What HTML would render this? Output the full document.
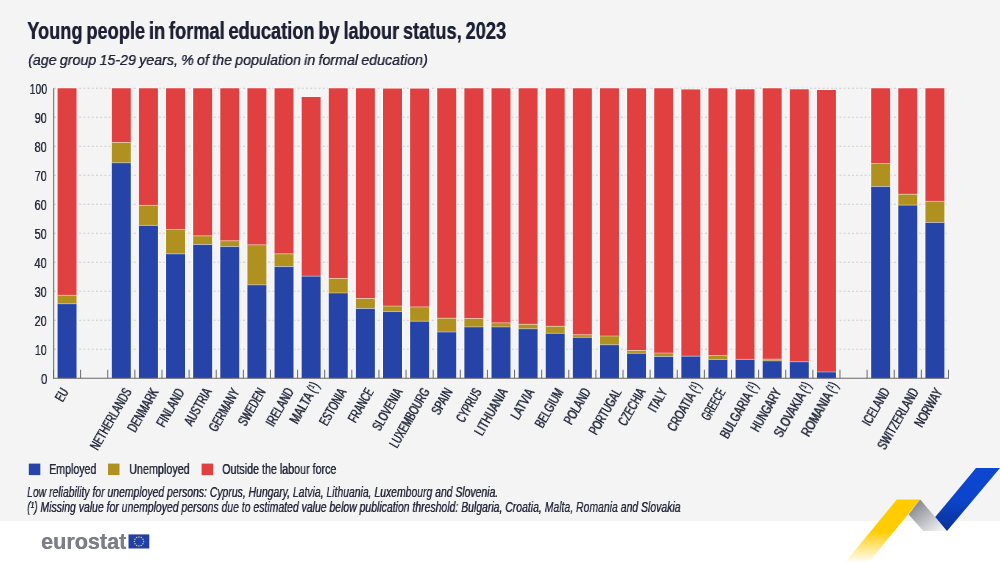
<!DOCTYPE html>
<html lang="en"><head><meta charset="utf-8"><title>Young people in formal education by labour status, 2023</title>
<style>
html,body{margin:0;padding:0;background:#fff;}
body{width:1000px;height:562px;overflow:hidden;position:relative;font-family:"Liberation Sans",sans-serif;}
svg{display:block;position:absolute;left:0;top:0;}
.a{position:absolute;width:0;height:0;will-change:transform;}
.t{position:absolute;display:block;white-space:nowrap;line-height:0;font-family:"Liberation Sans",sans-serif;}
</style></head><body>
<svg width="1000" height="562" viewBox="0 0 1000 562">
<defs>
<linearGradient id="gy" gradientUnits="userSpaceOnUse" x1="0" y1="499.5" x2="0" y2="562"><stop offset="0" stop-color="#ffcc00"/><stop offset="0.5" stop-color="#ffcc00"/><stop offset="1" stop-color="#ffcc00" stop-opacity="0.04"/></linearGradient>
<linearGradient id="gg" gradientUnits="userSpaceOnUse" x1="915" y1="503" x2="938" y2="533"><stop offset="0" stop-color="#85878f"/><stop offset="1" stop-color="#f2f2f3"/></linearGradient>
<linearGradient id="gb" gradientUnits="userSpaceOnUse" x1="0" y1="468" x2="0" y2="531"><stop offset="0" stop-color="#0c47d0"/><stop offset="0.5" stop-color="#0c45cc"/><stop offset="1" stop-color="#0a2f94"/></linearGradient>
</defs>
<rect x="0" y="0" width="1000" height="562" fill="#ffffff"/>
<rect x="0" y="0" width="1000" height="521" fill="#f4f4f4"/>
<line x1="54.00" y1="349.25" x2="948.46" y2="349.25" stroke="#cdcdcd" stroke-width="1" stroke-dasharray="2 2.2"/>
<line x1="54.00" y1="320.25" x2="948.46" y2="320.25" stroke="#cdcdcd" stroke-width="1" stroke-dasharray="2 2.2"/>
<line x1="54.00" y1="291.25" x2="948.46" y2="291.25" stroke="#cdcdcd" stroke-width="1" stroke-dasharray="2 2.2"/>
<line x1="54.00" y1="262.25" x2="948.46" y2="262.25" stroke="#cdcdcd" stroke-width="1" stroke-dasharray="2 2.2"/>
<line x1="54.00" y1="233.25" x2="948.46" y2="233.25" stroke="#cdcdcd" stroke-width="1" stroke-dasharray="2 2.2"/>
<line x1="54.00" y1="204.25" x2="948.46" y2="204.25" stroke="#cdcdcd" stroke-width="1" stroke-dasharray="2 2.2"/>
<line x1="54.00" y1="175.25" x2="948.46" y2="175.25" stroke="#cdcdcd" stroke-width="1" stroke-dasharray="2 2.2"/>
<line x1="54.00" y1="146.25" x2="948.46" y2="146.25" stroke="#cdcdcd" stroke-width="1" stroke-dasharray="2 2.2"/>
<line x1="54.00" y1="117.25" x2="948.46" y2="117.25" stroke="#cdcdcd" stroke-width="1" stroke-dasharray="2 2.2"/>
<line x1="54.00" y1="88.25" x2="948.46" y2="88.25" stroke="#cdcdcd" stroke-width="1" stroke-dasharray="2 2.2"/>
<rect x="56.71" y="87.40" width="20.70" height="290.85" fill="#ffffff" fill-opacity="0.9"/>
<rect x="57.56" y="88.25" width="19.0" height="207.06" fill="#e04040"/>
<rect x="57.56" y="295.31" width="19.0" height="8.41" fill="#b09120"/>
<rect x="57.56" y="303.72" width="19.0" height="74.53" fill="#2644a7"/>
<line x1="57.56" y1="303.72" x2="76.56" y2="303.72" stroke="#ffffff" stroke-opacity="0.6" stroke-width="0.7"/>
<line x1="57.56" y1="295.31" x2="76.56" y2="295.31" stroke="#ffffff" stroke-opacity="0.6" stroke-width="0.7"/>
<rect x="110.95" y="87.40" width="20.70" height="290.85" fill="#ffffff" fill-opacity="0.9"/>
<rect x="111.80" y="88.25" width="19.0" height="54.23" fill="#e04040"/>
<rect x="111.80" y="142.48" width="19.0" height="20.30" fill="#b09120"/>
<rect x="111.80" y="162.78" width="19.0" height="215.47" fill="#2644a7"/>
<line x1="111.80" y1="162.78" x2="130.80" y2="162.78" stroke="#ffffff" stroke-opacity="0.6" stroke-width="0.7"/>
<line x1="111.80" y1="142.48" x2="130.80" y2="142.48" stroke="#ffffff" stroke-opacity="0.6" stroke-width="0.7"/>
<rect x="138.07" y="87.40" width="20.70" height="290.85" fill="#ffffff" fill-opacity="0.9"/>
<rect x="138.92" y="88.25" width="19.0" height="117.16" fill="#e04040"/>
<rect x="138.92" y="205.41" width="19.0" height="20.01" fill="#b09120"/>
<rect x="138.92" y="225.42" width="19.0" height="152.83" fill="#2644a7"/>
<line x1="138.92" y1="225.42" x2="157.92" y2="225.42" stroke="#ffffff" stroke-opacity="0.6" stroke-width="0.7"/>
<line x1="138.92" y1="205.41" x2="157.92" y2="205.41" stroke="#ffffff" stroke-opacity="0.6" stroke-width="0.7"/>
<rect x="165.19" y="87.40" width="20.70" height="290.85" fill="#ffffff" fill-opacity="0.9"/>
<rect x="166.04" y="88.25" width="19.0" height="141.23" fill="#e04040"/>
<rect x="166.04" y="229.48" width="19.0" height="24.36" fill="#b09120"/>
<rect x="166.04" y="253.84" width="19.0" height="124.41" fill="#2644a7"/>
<line x1="166.04" y1="253.84" x2="185.04" y2="253.84" stroke="#ffffff" stroke-opacity="0.6" stroke-width="0.7"/>
<line x1="166.04" y1="229.48" x2="185.04" y2="229.48" stroke="#ffffff" stroke-opacity="0.6" stroke-width="0.7"/>
<rect x="192.31" y="87.40" width="20.70" height="290.85" fill="#ffffff" fill-opacity="0.9"/>
<rect x="193.16" y="88.25" width="19.0" height="147.61" fill="#e04040"/>
<rect x="193.16" y="235.86" width="19.0" height="8.70" fill="#b09120"/>
<rect x="193.16" y="244.56" width="19.0" height="133.69" fill="#2644a7"/>
<line x1="193.16" y1="244.56" x2="212.16" y2="244.56" stroke="#ffffff" stroke-opacity="0.6" stroke-width="0.7"/>
<line x1="193.16" y1="235.86" x2="212.16" y2="235.86" stroke="#ffffff" stroke-opacity="0.6" stroke-width="0.7"/>
<rect x="219.43" y="87.40" width="20.70" height="290.85" fill="#ffffff" fill-opacity="0.9"/>
<rect x="220.28" y="88.25" width="19.0" height="152.54" fill="#e04040"/>
<rect x="220.28" y="240.79" width="19.0" height="5.80" fill="#b09120"/>
<rect x="220.28" y="246.59" width="19.0" height="131.66" fill="#2644a7"/>
<line x1="220.28" y1="246.59" x2="239.28" y2="246.59" stroke="#ffffff" stroke-opacity="0.6" stroke-width="0.7"/>
<line x1="220.28" y1="240.79" x2="239.28" y2="240.79" stroke="#ffffff" stroke-opacity="0.6" stroke-width="0.7"/>
<rect x="246.55" y="87.40" width="20.70" height="290.85" fill="#ffffff" fill-opacity="0.9"/>
<rect x="247.40" y="88.25" width="19.0" height="156.60" fill="#e04040"/>
<rect x="247.40" y="244.85" width="19.0" height="40.02" fill="#b09120"/>
<rect x="247.40" y="284.87" width="19.0" height="93.38" fill="#2644a7"/>
<line x1="247.40" y1="284.87" x2="266.40" y2="284.87" stroke="#ffffff" stroke-opacity="0.6" stroke-width="0.7"/>
<line x1="247.40" y1="244.85" x2="266.40" y2="244.85" stroke="#ffffff" stroke-opacity="0.6" stroke-width="0.7"/>
<rect x="273.67" y="87.40" width="20.70" height="290.85" fill="#ffffff" fill-opacity="0.9"/>
<rect x="274.52" y="88.25" width="19.0" height="165.59" fill="#e04040"/>
<rect x="274.52" y="253.84" width="19.0" height="12.76" fill="#b09120"/>
<rect x="274.52" y="266.60" width="19.0" height="111.65" fill="#2644a7"/>
<line x1="274.52" y1="266.60" x2="293.52" y2="266.60" stroke="#ffffff" stroke-opacity="0.6" stroke-width="0.7"/>
<line x1="274.52" y1="253.84" x2="293.52" y2="253.84" stroke="#ffffff" stroke-opacity="0.6" stroke-width="0.7"/>
<rect x="300.79" y="96.10" width="20.70" height="282.15" fill="#ffffff" fill-opacity="0.9"/>
<rect x="301.64" y="96.95" width="19.0" height="179.22" fill="#e04040"/>
<rect x="301.64" y="276.17" width="19.0" height="102.08" fill="#2644a7"/>
<line x1="301.64" y1="276.17" x2="320.64" y2="276.17" stroke="#ffffff" stroke-opacity="0.6" stroke-width="0.7"/>
<rect x="327.91" y="87.40" width="20.70" height="290.85" fill="#ffffff" fill-opacity="0.9"/>
<rect x="328.76" y="88.25" width="19.0" height="190.24" fill="#e04040"/>
<rect x="328.76" y="278.49" width="19.0" height="14.50" fill="#b09120"/>
<rect x="328.76" y="292.99" width="19.0" height="85.26" fill="#2644a7"/>
<line x1="328.76" y1="292.99" x2="347.76" y2="292.99" stroke="#ffffff" stroke-opacity="0.6" stroke-width="0.7"/>
<line x1="328.76" y1="278.49" x2="347.76" y2="278.49" stroke="#ffffff" stroke-opacity="0.6" stroke-width="0.7"/>
<rect x="355.03" y="87.40" width="20.70" height="290.85" fill="#ffffff" fill-opacity="0.9"/>
<rect x="355.88" y="88.25" width="19.0" height="210.25" fill="#e04040"/>
<rect x="355.88" y="298.50" width="19.0" height="10.00" fill="#b09120"/>
<rect x="355.88" y="308.50" width="19.0" height="69.75" fill="#2644a7"/>
<line x1="355.88" y1="308.50" x2="374.88" y2="308.50" stroke="#ffffff" stroke-opacity="0.6" stroke-width="0.7"/>
<line x1="355.88" y1="298.50" x2="374.88" y2="298.50" stroke="#ffffff" stroke-opacity="0.6" stroke-width="0.7"/>
<rect x="382.15" y="87.69" width="20.70" height="290.56" fill="#ffffff" fill-opacity="0.9"/>
<rect x="383.00" y="88.54" width="19.0" height="217.50" fill="#e04040"/>
<rect x="383.00" y="306.04" width="19.0" height="5.51" fill="#b09120"/>
<rect x="383.00" y="311.55" width="19.0" height="66.70" fill="#2644a7"/>
<line x1="383.00" y1="311.55" x2="402.00" y2="311.55" stroke="#ffffff" stroke-opacity="0.6" stroke-width="0.7"/>
<line x1="383.00" y1="306.04" x2="402.00" y2="306.04" stroke="#ffffff" stroke-opacity="0.6" stroke-width="0.7"/>
<rect x="409.27" y="87.69" width="20.70" height="290.56" fill="#ffffff" fill-opacity="0.9"/>
<rect x="410.12" y="88.54" width="19.0" height="218.37" fill="#e04040"/>
<rect x="410.12" y="306.91" width="19.0" height="14.36" fill="#b09120"/>
<rect x="410.12" y="321.26" width="19.0" height="56.98" fill="#2644a7"/>
<line x1="410.12" y1="321.26" x2="429.12" y2="321.26" stroke="#ffffff" stroke-opacity="0.6" stroke-width="0.7"/>
<line x1="410.12" y1="306.91" x2="429.12" y2="306.91" stroke="#ffffff" stroke-opacity="0.6" stroke-width="0.7"/>
<rect x="436.39" y="87.40" width="20.70" height="290.85" fill="#ffffff" fill-opacity="0.9"/>
<rect x="437.24" y="88.25" width="19.0" height="229.97" fill="#e04040"/>
<rect x="437.24" y="318.22" width="19.0" height="13.78" fill="#b09120"/>
<rect x="437.24" y="332.00" width="19.0" height="46.25" fill="#2644a7"/>
<line x1="437.24" y1="332.00" x2="456.24" y2="332.00" stroke="#ffffff" stroke-opacity="0.6" stroke-width="0.7"/>
<line x1="437.24" y1="318.22" x2="456.24" y2="318.22" stroke="#ffffff" stroke-opacity="0.6" stroke-width="0.7"/>
<rect x="463.51" y="87.40" width="20.70" height="290.85" fill="#ffffff" fill-opacity="0.9"/>
<rect x="464.36" y="88.25" width="19.0" height="230.26" fill="#e04040"/>
<rect x="464.36" y="318.51" width="19.0" height="8.41" fill="#b09120"/>
<rect x="464.36" y="326.92" width="19.0" height="51.33" fill="#2644a7"/>
<line x1="464.36" y1="326.92" x2="483.36" y2="326.92" stroke="#ffffff" stroke-opacity="0.6" stroke-width="0.7"/>
<line x1="464.36" y1="318.51" x2="483.36" y2="318.51" stroke="#ffffff" stroke-opacity="0.6" stroke-width="0.7"/>
<rect x="490.63" y="87.40" width="20.70" height="290.85" fill="#ffffff" fill-opacity="0.9"/>
<rect x="491.48" y="88.25" width="19.0" height="234.61" fill="#e04040"/>
<rect x="491.48" y="322.86" width="19.0" height="4.06" fill="#b09120"/>
<rect x="491.48" y="326.92" width="19.0" height="51.33" fill="#2644a7"/>
<line x1="491.48" y1="326.92" x2="510.48" y2="326.92" stroke="#ffffff" stroke-opacity="0.6" stroke-width="0.7"/>
<line x1="491.48" y1="322.86" x2="510.48" y2="322.86" stroke="#ffffff" stroke-opacity="0.6" stroke-width="0.7"/>
<rect x="517.75" y="87.40" width="20.70" height="290.85" fill="#ffffff" fill-opacity="0.9"/>
<rect x="518.60" y="88.25" width="19.0" height="236.06" fill="#e04040"/>
<rect x="518.60" y="324.31" width="19.0" height="4.44" fill="#b09120"/>
<rect x="518.60" y="328.75" width="19.0" height="49.50" fill="#2644a7"/>
<line x1="518.60" y1="328.75" x2="537.60" y2="328.75" stroke="#ffffff" stroke-opacity="0.6" stroke-width="0.7"/>
<line x1="518.60" y1="324.31" x2="537.60" y2="324.31" stroke="#ffffff" stroke-opacity="0.6" stroke-width="0.7"/>
<rect x="544.87" y="87.40" width="20.70" height="290.85" fill="#ffffff" fill-opacity="0.9"/>
<rect x="545.72" y="88.25" width="19.0" height="238.09" fill="#e04040"/>
<rect x="545.72" y="326.34" width="19.0" height="6.96" fill="#b09120"/>
<rect x="545.72" y="333.30" width="19.0" height="44.95" fill="#2644a7"/>
<line x1="545.72" y1="333.30" x2="564.72" y2="333.30" stroke="#ffffff" stroke-opacity="0.6" stroke-width="0.7"/>
<line x1="545.72" y1="326.34" x2="564.72" y2="326.34" stroke="#ffffff" stroke-opacity="0.6" stroke-width="0.7"/>
<rect x="571.99" y="87.40" width="20.70" height="290.85" fill="#ffffff" fill-opacity="0.9"/>
<rect x="572.84" y="88.25" width="19.0" height="246.50" fill="#e04040"/>
<rect x="572.84" y="334.75" width="19.0" height="2.61" fill="#b09120"/>
<rect x="572.84" y="337.36" width="19.0" height="40.89" fill="#2644a7"/>
<line x1="572.84" y1="337.36" x2="591.84" y2="337.36" stroke="#ffffff" stroke-opacity="0.6" stroke-width="0.7"/>
<line x1="572.84" y1="334.75" x2="591.84" y2="334.75" stroke="#ffffff" stroke-opacity="0.6" stroke-width="0.7"/>
<rect x="599.11" y="87.40" width="20.70" height="290.85" fill="#ffffff" fill-opacity="0.9"/>
<rect x="599.96" y="88.25" width="19.0" height="247.75" fill="#e04040"/>
<rect x="599.96" y="336.00" width="19.0" height="8.76" fill="#b09120"/>
<rect x="599.96" y="344.75" width="19.0" height="33.50" fill="#2644a7"/>
<line x1="599.96" y1="344.75" x2="618.96" y2="344.75" stroke="#ffffff" stroke-opacity="0.6" stroke-width="0.7"/>
<line x1="599.96" y1="336.00" x2="618.96" y2="336.00" stroke="#ffffff" stroke-opacity="0.6" stroke-width="0.7"/>
<rect x="626.23" y="87.40" width="20.70" height="290.85" fill="#ffffff" fill-opacity="0.9"/>
<rect x="627.08" y="88.25" width="19.0" height="262.25" fill="#e04040"/>
<rect x="627.08" y="350.50" width="19.0" height="2.81" fill="#b09120"/>
<rect x="627.08" y="353.31" width="19.0" height="24.94" fill="#2644a7"/>
<line x1="627.08" y1="353.31" x2="646.08" y2="353.31" stroke="#ffffff" stroke-opacity="0.6" stroke-width="0.7"/>
<line x1="627.08" y1="350.50" x2="646.08" y2="350.50" stroke="#ffffff" stroke-opacity="0.6" stroke-width="0.7"/>
<rect x="653.35" y="87.40" width="20.70" height="290.85" fill="#ffffff" fill-opacity="0.9"/>
<rect x="654.20" y="88.25" width="19.0" height="264.77" fill="#e04040"/>
<rect x="654.20" y="353.02" width="19.0" height="3.48" fill="#b09120"/>
<rect x="654.20" y="356.50" width="19.0" height="21.75" fill="#2644a7"/>
<line x1="654.20" y1="356.50" x2="673.20" y2="356.50" stroke="#ffffff" stroke-opacity="0.6" stroke-width="0.7"/>
<line x1="654.20" y1="353.02" x2="673.20" y2="353.02" stroke="#ffffff" stroke-opacity="0.6" stroke-width="0.7"/>
<rect x="680.47" y="88.56" width="20.70" height="289.69" fill="#ffffff" fill-opacity="0.9"/>
<rect x="681.32" y="89.41" width="19.0" height="266.80" fill="#e04040"/>
<rect x="681.32" y="356.21" width="19.0" height="22.04" fill="#2644a7"/>
<line x1="681.32" y1="356.21" x2="700.32" y2="356.21" stroke="#ffffff" stroke-opacity="0.6" stroke-width="0.7"/>
<rect x="707.59" y="87.40" width="20.70" height="290.85" fill="#ffffff" fill-opacity="0.9"/>
<rect x="708.44" y="88.25" width="19.0" height="267.24" fill="#e04040"/>
<rect x="708.44" y="355.49" width="19.0" height="4.00" fill="#b09120"/>
<rect x="708.44" y="359.49" width="19.0" height="18.76" fill="#2644a7"/>
<line x1="708.44" y1="359.49" x2="727.44" y2="359.49" stroke="#ffffff" stroke-opacity="0.6" stroke-width="0.7"/>
<line x1="708.44" y1="355.49" x2="727.44" y2="355.49" stroke="#ffffff" stroke-opacity="0.6" stroke-width="0.7"/>
<rect x="734.71" y="88.41" width="20.70" height="289.84" fill="#ffffff" fill-opacity="0.9"/>
<rect x="735.56" y="89.26" width="19.0" height="270.13" fill="#e04040"/>
<rect x="735.56" y="359.40" width="19.0" height="18.85" fill="#2644a7"/>
<line x1="735.56" y1="359.40" x2="754.56" y2="359.40" stroke="#ffffff" stroke-opacity="0.6" stroke-width="0.7"/>
<rect x="761.83" y="87.40" width="20.70" height="290.85" fill="#ffffff" fill-opacity="0.9"/>
<rect x="762.68" y="88.25" width="19.0" height="270.86" fill="#e04040"/>
<rect x="762.68" y="359.11" width="19.0" height="1.74" fill="#b09120"/>
<rect x="762.68" y="360.85" width="19.0" height="17.40" fill="#2644a7"/>
<line x1="762.68" y1="360.85" x2="781.68" y2="360.85" stroke="#ffffff" stroke-opacity="0.6" stroke-width="0.7"/>
<line x1="762.68" y1="359.11" x2="781.68" y2="359.11" stroke="#ffffff" stroke-opacity="0.6" stroke-width="0.7"/>
<rect x="788.95" y="88.41" width="20.70" height="289.84" fill="#ffffff" fill-opacity="0.9"/>
<rect x="789.80" y="89.26" width="19.0" height="272.45" fill="#e04040"/>
<rect x="789.80" y="361.72" width="19.0" height="16.53" fill="#2644a7"/>
<line x1="789.80" y1="361.72" x2="808.80" y2="361.72" stroke="#ffffff" stroke-opacity="0.6" stroke-width="0.7"/>
<rect x="816.07" y="89.14" width="20.70" height="289.11" fill="#ffffff" fill-opacity="0.9"/>
<rect x="816.92" y="89.99" width="19.0" height="282.02" fill="#e04040"/>
<rect x="816.92" y="372.01" width="19.0" height="6.23" fill="#2644a7"/>
<line x1="816.92" y1="372.01" x2="835.92" y2="372.01" stroke="#ffffff" stroke-opacity="0.6" stroke-width="0.7"/>
<rect x="870.31" y="87.40" width="20.70" height="290.85" fill="#ffffff" fill-opacity="0.9"/>
<rect x="871.16" y="88.25" width="19.0" height="75.26" fill="#e04040"/>
<rect x="871.16" y="163.51" width="19.0" height="23.06" fill="#b09120"/>
<rect x="871.16" y="186.56" width="19.0" height="191.69" fill="#2644a7"/>
<line x1="871.16" y1="186.56" x2="890.16" y2="186.56" stroke="#ffffff" stroke-opacity="0.6" stroke-width="0.7"/>
<line x1="871.16" y1="163.51" x2="890.16" y2="163.51" stroke="#ffffff" stroke-opacity="0.6" stroke-width="0.7"/>
<rect x="897.43" y="87.40" width="20.70" height="290.85" fill="#ffffff" fill-opacity="0.9"/>
<rect x="898.28" y="88.25" width="19.0" height="105.99" fill="#e04040"/>
<rect x="898.28" y="194.25" width="19.0" height="10.88" fill="#b09120"/>
<rect x="898.28" y="205.12" width="19.0" height="173.13" fill="#2644a7"/>
<line x1="898.28" y1="205.12" x2="917.28" y2="205.12" stroke="#ffffff" stroke-opacity="0.6" stroke-width="0.7"/>
<line x1="898.28" y1="194.25" x2="917.28" y2="194.25" stroke="#ffffff" stroke-opacity="0.6" stroke-width="0.7"/>
<rect x="924.55" y="87.40" width="20.70" height="290.85" fill="#ffffff" fill-opacity="0.9"/>
<rect x="925.40" y="88.25" width="19.0" height="113.10" fill="#e04040"/>
<rect x="925.40" y="201.35" width="19.0" height="21.17" fill="#b09120"/>
<rect x="925.40" y="222.52" width="19.0" height="155.73" fill="#2644a7"/>
<line x1="925.40" y1="222.52" x2="944.40" y2="222.52" stroke="#ffffff" stroke-opacity="0.6" stroke-width="0.7"/>
<line x1="925.40" y1="201.35" x2="944.40" y2="201.35" stroke="#ffffff" stroke-opacity="0.6" stroke-width="0.7"/>
<line x1="53.70" y1="88.25" x2="53.70" y2="378.75" stroke="#6a6a6a" stroke-width="1"/>
<line x1="53.20" y1="378.25" x2="948.96" y2="378.25" stroke="#6a6a6a" stroke-width="1.2"/>
<line x1="53.50" y1="369.75" x2="53.50" y2="378.25" stroke="#6a6a6a" stroke-width="1"/>
<line x1="80.62" y1="369.75" x2="80.62" y2="378.25" stroke="#6a6a6a" stroke-width="1"/>
<line x1="107.74" y1="369.75" x2="107.74" y2="378.25" stroke="#6a6a6a" stroke-width="1"/>
<line x1="134.86" y1="369.75" x2="134.86" y2="378.25" stroke="#6a6a6a" stroke-width="1"/>
<line x1="161.98" y1="369.75" x2="161.98" y2="378.25" stroke="#6a6a6a" stroke-width="1"/>
<line x1="189.10" y1="369.75" x2="189.10" y2="378.25" stroke="#6a6a6a" stroke-width="1"/>
<line x1="216.22" y1="369.75" x2="216.22" y2="378.25" stroke="#6a6a6a" stroke-width="1"/>
<line x1="243.34" y1="369.75" x2="243.34" y2="378.25" stroke="#6a6a6a" stroke-width="1"/>
<line x1="270.46" y1="369.75" x2="270.46" y2="378.25" stroke="#6a6a6a" stroke-width="1"/>
<line x1="297.58" y1="369.75" x2="297.58" y2="378.25" stroke="#6a6a6a" stroke-width="1"/>
<line x1="324.70" y1="369.75" x2="324.70" y2="378.25" stroke="#6a6a6a" stroke-width="1"/>
<line x1="351.82" y1="369.75" x2="351.82" y2="378.25" stroke="#6a6a6a" stroke-width="1"/>
<line x1="378.94" y1="369.75" x2="378.94" y2="378.25" stroke="#6a6a6a" stroke-width="1"/>
<line x1="406.06" y1="369.75" x2="406.06" y2="378.25" stroke="#6a6a6a" stroke-width="1"/>
<line x1="433.18" y1="369.75" x2="433.18" y2="378.25" stroke="#6a6a6a" stroke-width="1"/>
<line x1="460.30" y1="369.75" x2="460.30" y2="378.25" stroke="#6a6a6a" stroke-width="1"/>
<line x1="487.42" y1="369.75" x2="487.42" y2="378.25" stroke="#6a6a6a" stroke-width="1"/>
<line x1="514.54" y1="369.75" x2="514.54" y2="378.25" stroke="#6a6a6a" stroke-width="1"/>
<line x1="541.66" y1="369.75" x2="541.66" y2="378.25" stroke="#6a6a6a" stroke-width="1"/>
<line x1="568.78" y1="369.75" x2="568.78" y2="378.25" stroke="#6a6a6a" stroke-width="1"/>
<line x1="595.90" y1="369.75" x2="595.90" y2="378.25" stroke="#6a6a6a" stroke-width="1"/>
<line x1="623.02" y1="369.75" x2="623.02" y2="378.25" stroke="#6a6a6a" stroke-width="1"/>
<line x1="650.14" y1="369.75" x2="650.14" y2="378.25" stroke="#6a6a6a" stroke-width="1"/>
<line x1="677.26" y1="369.75" x2="677.26" y2="378.25" stroke="#6a6a6a" stroke-width="1"/>
<line x1="704.38" y1="369.75" x2="704.38" y2="378.25" stroke="#6a6a6a" stroke-width="1"/>
<line x1="731.50" y1="369.75" x2="731.50" y2="378.25" stroke="#6a6a6a" stroke-width="1"/>
<line x1="758.62" y1="369.75" x2="758.62" y2="378.25" stroke="#6a6a6a" stroke-width="1"/>
<line x1="785.74" y1="369.75" x2="785.74" y2="378.25" stroke="#6a6a6a" stroke-width="1"/>
<line x1="812.86" y1="369.75" x2="812.86" y2="378.25" stroke="#6a6a6a" stroke-width="1"/>
<line x1="839.98" y1="369.75" x2="839.98" y2="378.25" stroke="#6a6a6a" stroke-width="1"/>
<line x1="867.10" y1="369.75" x2="867.10" y2="378.25" stroke="#6a6a6a" stroke-width="1"/>
<line x1="894.22" y1="369.75" x2="894.22" y2="378.25" stroke="#6a6a6a" stroke-width="1"/>
<line x1="921.34" y1="369.75" x2="921.34" y2="378.25" stroke="#6a6a6a" stroke-width="1"/>
<line x1="948.46" y1="369.75" x2="948.46" y2="378.25" stroke="#6a6a6a" stroke-width="1"/>
<rect x="28.8" y="463.6" width="11.5" height="11.5" fill="#2644a7"/>
<rect x="108.0" y="463.6" width="11.5" height="11.5" fill="#b09120"/>
<rect x="201.6" y="463.6" width="11.5" height="11.5" fill="#e04040"/>
<rect x="128.5" y="534.4" width="20.8" height="14.1" fill="#2140a5"/>
<circle cx="138.95" cy="536.90" r="0.75" fill="#f2cc2a"/>
<circle cx="141.25" cy="537.52" r="0.75" fill="#f2cc2a"/>
<circle cx="142.93" cy="539.20" r="0.75" fill="#f2cc2a"/>
<circle cx="143.55" cy="541.50" r="0.75" fill="#f2cc2a"/>
<circle cx="142.93" cy="543.80" r="0.75" fill="#f2cc2a"/>
<circle cx="141.25" cy="545.48" r="0.75" fill="#f2cc2a"/>
<circle cx="138.95" cy="546.10" r="0.75" fill="#f2cc2a"/>
<circle cx="136.65" cy="545.48" r="0.75" fill="#f2cc2a"/>
<circle cx="134.97" cy="543.80" r="0.75" fill="#f2cc2a"/>
<circle cx="134.35" cy="541.50" r="0.75" fill="#f2cc2a"/>
<circle cx="134.97" cy="539.20" r="0.75" fill="#f2cc2a"/>
<circle cx="136.65" cy="537.52" r="0.75" fill="#f2cc2a"/>
<polygon points="896.8,499.5 920.2,499.5 869,562 845.4,562" fill="url(#gy)"/>
<polygon points="920.2,499.5 947,531.1 923.4,531.1 908.6,514.4" fill="url(#gg)"/>
<polygon points="976,468 1000,468 947,531.1 935.2,517.1" fill="url(#gb)"/>
</svg>
<div class="a" style="left:27.20px;top:39.10px;"><span class="t" style="left:0;transform-origin:0 50%;top:-8.04px;font-size:23.2px;font-weight:700;color:#1d2136;word-spacing:-1.6px;text-shadow:0.45px 0 0 #1d2136;transform:scaleX(0.7863)">Young people in formal education by labour status, 2023</span></div>
<div class="a" style="left:27.50px;top:64.90px;"><span class="t" style="left:0;transform-origin:0 50%;top:-5.37px;font-size:15.5px;font-style:italic;color:#22263a;word-spacing:-0.8px;text-shadow:0.20px 0 0 #22263a;transform:scaleX(0.9191)">(age group 15-29 years, % of the population in formal education)</span></div>
<div class="a" style="left:46.80px;top:383.55px;"><span class="t" style="right:0;transform-origin:100% 50%;top:-5.20px;font-size:15px;color:#262b3d;text-shadow:0.25px 0 0 #262b3d;transform:scaleX(0.7792)">0</span></div>
<div class="a" style="left:46.80px;top:354.55px;"><span class="t" style="right:0;transform-origin:100% 50%;top:-5.20px;font-size:15px;color:#262b3d;text-shadow:0.25px 0 0 #262b3d;transform:scaleX(0.7132)">10</span></div>
<div class="a" style="left:46.80px;top:325.55px;"><span class="t" style="right:0;transform-origin:100% 50%;top:-5.20px;font-size:15px;color:#262b3d;text-shadow:0.25px 0 0 #262b3d;transform:scaleX(0.7312)">20</span></div>
<div class="a" style="left:46.80px;top:296.55px;"><span class="t" style="right:0;transform-origin:100% 50%;top:-5.20px;font-size:15px;color:#262b3d;text-shadow:0.25px 0 0 #262b3d;transform:scaleX(0.7312)">30</span></div>
<div class="a" style="left:46.80px;top:267.55px;"><span class="t" style="right:0;transform-origin:100% 50%;top:-5.20px;font-size:15px;color:#262b3d;text-shadow:0.25px 0 0 #262b3d;transform:scaleX(0.7432)">40</span></div>
<div class="a" style="left:46.80px;top:238.55px;"><span class="t" style="right:0;transform-origin:100% 50%;top:-5.20px;font-size:15px;color:#262b3d;text-shadow:0.25px 0 0 #262b3d;transform:scaleX(0.7312)">50</span></div>
<div class="a" style="left:46.80px;top:209.55px;"><span class="t" style="right:0;transform-origin:100% 50%;top:-5.20px;font-size:15px;color:#262b3d;text-shadow:0.25px 0 0 #262b3d;transform:scaleX(0.7372)">60</span></div>
<div class="a" style="left:46.80px;top:180.55px;"><span class="t" style="right:0;transform-origin:100% 50%;top:-5.20px;font-size:15px;color:#262b3d;text-shadow:0.25px 0 0 #262b3d;transform:scaleX(0.7252)">70</span></div>
<div class="a" style="left:46.80px;top:151.55px;"><span class="t" style="right:0;transform-origin:100% 50%;top:-5.20px;font-size:15px;color:#262b3d;text-shadow:0.25px 0 0 #262b3d;transform:scaleX(0.7372)">80</span></div>
<div class="a" style="left:46.80px;top:122.55px;"><span class="t" style="right:0;transform-origin:100% 50%;top:-5.20px;font-size:15px;color:#262b3d;text-shadow:0.25px 0 0 #262b3d;transform:scaleX(0.7252)">90</span></div>
<div class="a" style="left:46.80px;top:93.55px;"><span class="t" style="right:0;transform-origin:100% 50%;top:-5.20px;font-size:15px;color:#262b3d;text-shadow:0.25px 0 0 #262b3d;transform:scaleX(0.6992)">100</span></div>
<div class="a" style="left:69.06px;top:391.60px;transform:rotate(-60deg);"><span class="t" style="right:0;transform-origin:100% 50%;top:-4.99px;font-size:14.4px;color:#262b3d;text-shadow:0.80px 0 0 #262b3d;transform:scaleX(0.6299)">EU</span></div>
<div class="a" style="left:132.30px;top:391.60px;transform:rotate(-60deg);"><span class="t" style="right:0;transform-origin:100% 50%;top:-4.99px;font-size:14.4px;color:#262b3d;text-shadow:0.80px 0 0 #262b3d;transform:scaleX(0.6407)">NETHERLANDS</span></div>
<div class="a" style="left:159.12px;top:391.60px;transform:rotate(-60deg);"><span class="t" style="right:0;transform-origin:100% 50%;top:-4.99px;font-size:14.4px;color:#262b3d;text-shadow:0.80px 0 0 #262b3d;transform:scaleX(0.6638)">DENMARK</span></div>
<div class="a" style="left:185.04px;top:391.60px;transform:rotate(-60deg);"><span class="t" style="right:0;transform-origin:100% 50%;top:-4.99px;font-size:14.4px;color:#262b3d;text-shadow:0.80px 0 0 #262b3d;transform:scaleX(0.6752)">FINLAND</span></div>
<div class="a" style="left:211.86px;top:391.60px;transform:rotate(-60deg);"><span class="t" style="right:0;transform-origin:100% 50%;top:-4.99px;font-size:14.4px;color:#262b3d;text-shadow:0.80px 0 0 #262b3d;transform:scaleX(0.6553)">AUSTRIA</span></div>
<div class="a" style="left:240.08px;top:391.60px;transform:rotate(-60deg);"><span class="t" style="right:0;transform-origin:100% 50%;top:-4.99px;font-size:14.4px;color:#262b3d;text-shadow:0.80px 0 0 #262b3d;transform:scaleX(0.6469)">GERMANY</span></div>
<div class="a" style="left:265.60px;top:391.60px;transform:rotate(-60deg);"><span class="t" style="right:0;transform-origin:100% 50%;top:-4.99px;font-size:14.4px;color:#262b3d;text-shadow:0.80px 0 0 #262b3d;transform:scaleX(0.6471)">SWEDEN</span></div>
<div class="a" style="left:293.52px;top:391.60px;transform:rotate(-60deg);"><span class="t" style="right:0;transform-origin:100% 50%;top:-4.99px;font-size:14.4px;color:#262b3d;text-shadow:0.80px 0 0 #262b3d;transform:scaleX(0.6665)">IRELAND</span></div>
<div class="a" style="left:314.34px;top:395.50px;transform:rotate(-60deg);"><span class="t" style="right:0;transform-origin:100% 50%;top:-4.99px;font-size:14.4px;color:#262b3d;text-shadow:0.80px 0 0 #262b3d;transform:scaleX(0.7303)">MALTA</span></div>
<div class="a" style="left:315.49px;top:393.51px;transform:rotate(-60deg);"><span class="t" style="left:0;transform-origin:0 50%;top:-4.99px;font-size:14.4px;color:#262b3d;text-shadow:0.50px 0 0 #262b3d;transform:scaleX(0.6673)">(¹)</span></div>
<div class="a" style="left:347.46px;top:391.60px;transform:rotate(-60deg);"><span class="t" style="right:0;transform-origin:100% 50%;top:-4.99px;font-size:14.4px;color:#262b3d;text-shadow:0.80px 0 0 #262b3d;transform:scaleX(0.6386)">ESTONIA</span></div>
<div class="a" style="left:373.68px;top:391.60px;transform:rotate(-60deg);"><span class="t" style="right:0;transform-origin:100% 50%;top:-4.99px;font-size:14.4px;color:#262b3d;text-shadow:0.80px 0 0 #262b3d;transform:scaleX(0.6250)">FRANCE</span></div>
<div class="a" style="left:403.35px;top:391.60px;transform:rotate(-60deg);"><span class="t" style="right:0;transform-origin:100% 50%;top:-4.99px;font-size:14.4px;color:#262b3d;text-shadow:0.80px 0 0 #262b3d;transform:scaleX(0.6414)">SLOVENIA</span></div>
<div class="a" style="left:430.47px;top:391.60px;transform:rotate(-60deg);"><span class="t" style="right:0;transform-origin:100% 50%;top:-4.99px;font-size:14.4px;color:#262b3d;text-shadow:0.80px 0 0 #262b3d;transform:scaleX(0.6474)">LUXEMBOURG</span></div>
<div class="a" style="left:452.84px;top:391.60px;transform:rotate(-60deg);"><span class="t" style="right:0;transform-origin:100% 50%;top:-4.99px;font-size:14.4px;color:#262b3d;text-shadow:0.80px 0 0 #262b3d;transform:scaleX(0.6644)">SPAIN</span></div>
<div class="a" style="left:482.06px;top:391.60px;transform:rotate(-60deg);"><span class="t" style="right:0;transform-origin:100% 50%;top:-4.99px;font-size:14.4px;color:#262b3d;text-shadow:0.80px 0 0 #262b3d;transform:scaleX(0.6099)">CYPRUS</span></div>
<div class="a" style="left:507.88px;top:391.60px;transform:rotate(-60deg);"><span class="t" style="right:0;transform-origin:100% 50%;top:-4.99px;font-size:14.4px;color:#262b3d;text-shadow:0.80px 0 0 #262b3d;transform:scaleX(0.6914)">LITHUANIA</span></div>
<div class="a" style="left:535.35px;top:391.60px;transform:rotate(-60deg);"><span class="t" style="right:0;transform-origin:100% 50%;top:-4.99px;font-size:14.4px;color:#262b3d;text-shadow:0.80px 0 0 #262b3d;transform:scaleX(0.6756)">LATVIA</span></div>
<div class="a" style="left:564.32px;top:391.60px;transform:rotate(-60deg);"><span class="t" style="right:0;transform-origin:100% 50%;top:-4.99px;font-size:14.4px;color:#262b3d;text-shadow:0.80px 0 0 #262b3d;transform:scaleX(0.6588)">BELGIUM</span></div>
<div class="a" style="left:591.04px;top:391.60px;transform:rotate(-60deg);"><span class="t" style="right:0;transform-origin:100% 50%;top:-4.99px;font-size:14.4px;color:#262b3d;text-shadow:0.80px 0 0 #262b3d;transform:scaleX(0.6637)">POLAND</span></div>
<div class="a" style="left:621.56px;top:391.60px;transform:rotate(-60deg);"><span class="t" style="right:0;transform-origin:100% 50%;top:-4.99px;font-size:14.4px;color:#262b3d;text-shadow:0.80px 0 0 #262b3d;transform:scaleX(0.6434)">PORTUGAL</span></div>
<div class="a" style="left:645.58px;top:391.60px;transform:rotate(-60deg);"><span class="t" style="right:0;transform-origin:100% 50%;top:-4.99px;font-size:14.4px;color:#262b3d;text-shadow:0.80px 0 0 #262b3d;transform:scaleX(0.6455)">CZECHIA</span></div>
<div class="a" style="left:668.30px;top:391.60px;transform:rotate(-60deg);"><span class="t" style="right:0;transform-origin:100% 50%;top:-4.99px;font-size:14.4px;color:#262b3d;text-shadow:0.80px 0 0 #262b3d;transform:scaleX(0.6521)">ITALY</span></div>
<div class="a" style="left:696.22px;top:395.50px;transform:rotate(-60deg);"><span class="t" style="right:0;transform-origin:100% 50%;top:-4.99px;font-size:14.4px;color:#262b3d;text-shadow:0.80px 0 0 #262b3d;transform:scaleX(0.6705)">CROATIA</span></div>
<div class="a" style="left:697.37px;top:393.51px;transform:rotate(-60deg);"><span class="t" style="left:0;transform-origin:0 50%;top:-4.99px;font-size:14.4px;color:#262b3d;text-shadow:0.50px 0 0 #262b3d;transform:scaleX(0.6673)">(¹)</span></div>
<div class="a" style="left:726.24px;top:391.60px;transform:rotate(-60deg);"><span class="t" style="right:0;transform-origin:100% 50%;top:-4.99px;font-size:14.4px;color:#262b3d;text-shadow:0.80px 0 0 #262b3d;transform:scaleX(0.5591)">GREECE</span></div>
<div class="a" style="left:752.51px;top:395.50px;transform:rotate(-60deg);"><span class="t" style="right:0;transform-origin:100% 50%;top:-4.99px;font-size:14.4px;color:#262b3d;text-shadow:0.80px 0 0 #262b3d;transform:scaleX(0.6921)">BULGARIA</span></div>
<div class="a" style="left:753.66px;top:393.51px;transform:rotate(-60deg);"><span class="t" style="left:0;transform-origin:0 50%;top:-4.99px;font-size:14.4px;color:#262b3d;text-shadow:0.50px 0 0 #262b3d;transform:scaleX(0.6673)">(¹)</span></div>
<div class="a" style="left:782.38px;top:391.60px;transform:rotate(-60deg);"><span class="t" style="right:0;transform-origin:100% 50%;top:-4.99px;font-size:14.4px;color:#262b3d;text-shadow:0.80px 0 0 #262b3d;transform:scaleX(0.6565)">HUNGARY</span></div>
<div class="a" style="left:806.20px;top:395.50px;transform:rotate(-60deg);"><span class="t" style="right:0;transform-origin:100% 50%;top:-4.99px;font-size:14.4px;color:#262b3d;text-shadow:0.80px 0 0 #262b3d;transform:scaleX(0.7041)">SLOVAKIA</span></div>
<div class="a" style="left:807.35px;top:393.51px;transform:rotate(-60deg);"><span class="t" style="left:0;transform-origin:0 50%;top:-4.99px;font-size:14.4px;color:#262b3d;text-shadow:0.50px 0 0 #262b3d;transform:scaleX(0.6673)">(¹)</span></div>
<div class="a" style="left:833.32px;top:395.50px;transform:rotate(-60deg);"><span class="t" style="right:0;transform-origin:100% 50%;top:-4.99px;font-size:14.4px;color:#262b3d;text-shadow:0.80px 0 0 #262b3d;transform:scaleX(0.7217)">ROMANIA</span></div>
<div class="a" style="left:834.47px;top:393.51px;transform:rotate(-60deg);"><span class="t" style="left:0;transform-origin:0 50%;top:-4.99px;font-size:14.4px;color:#262b3d;text-shadow:0.50px 0 0 #262b3d;transform:scaleX(0.6673)">(¹)</span></div>
<div class="a" style="left:889.76px;top:391.60px;transform:rotate(-60deg);"><span class="t" style="right:0;transform-origin:100% 50%;top:-4.99px;font-size:14.4px;color:#262b3d;text-shadow:0.80px 0 0 #262b3d;transform:scaleX(0.6553)">ICELAND</span></div>
<div class="a" style="left:918.78px;top:391.60px;transform:rotate(-60deg);"><span class="t" style="right:0;transform-origin:100% 50%;top:-4.99px;font-size:14.4px;color:#262b3d;text-shadow:0.80px 0 0 #262b3d;transform:scaleX(0.6608)">SWITZERLAND</span></div>
<div class="a" style="left:943.40px;top:391.60px;transform:rotate(-60deg);"><span class="t" style="right:0;transform-origin:100% 50%;top:-4.99px;font-size:14.4px;color:#262b3d;text-shadow:0.80px 0 0 #262b3d;transform:scaleX(0.6673)">NORWAY</span></div>
<div class="a" style="left:49.30px;top:474.20px;"><span class="t" style="left:0;transform-origin:0 50%;top:-4.85px;font-size:14px;color:#262b3d;text-shadow:0.40px 0 0 #262b3d;transform:scaleX(0.7582)">Employed</span></div>
<div class="a" style="left:128.50px;top:474.20px;"><span class="t" style="left:0;transform-origin:0 50%;top:-4.85px;font-size:14px;color:#262b3d;text-shadow:0.40px 0 0 #262b3d;transform:scaleX(0.7697)">Unemployed</span></div>
<div class="a" style="left:221.70px;top:474.20px;"><span class="t" style="left:0;transform-origin:0 50%;top:-4.85px;font-size:14px;color:#262b3d;text-shadow:0.40px 0 0 #262b3d;transform:scaleX(0.7643)">Outside the labour force</span></div>
<div class="a" style="left:27.40px;top:496.90px;"><span class="t" style="left:0;transform-origin:0 50%;top:-4.92px;font-size:14.2px;font-style:italic;color:#262b3d;text-shadow:0.30px 0 0 #262b3d;transform:scaleX(0.7332)">Low reliability for unemployed persons: Cyprus, Hungary, Latvia, Lithuania, Luxembourg and Slovenia.</span></div>
<div class="a" style="left:27.40px;top:512.10px;"><span class="t" style="left:0;transform-origin:0 50%;top:-4.92px;font-size:14.2px;font-style:italic;color:#262b3d;text-shadow:0.30px 0 0 #262b3d;transform:scaleX(0.7358)">(¹) Missing value for unemployed persons due to estimated value below publication threshold: Bulgaria, Croatia, Malta, Romania and Slovakia</span></div>
<div class="a" style="left:40.70px;top:548.50px;"><span class="t" style="left:0;transform-origin:0 50%;top:-7.48px;font-size:21.6px;font-weight:700;color:#7b7d89;text-shadow:0.30px 0 0 #7b7d89;transform:scaleX(0.9951)">eurostat</span></div>
</body></html>
